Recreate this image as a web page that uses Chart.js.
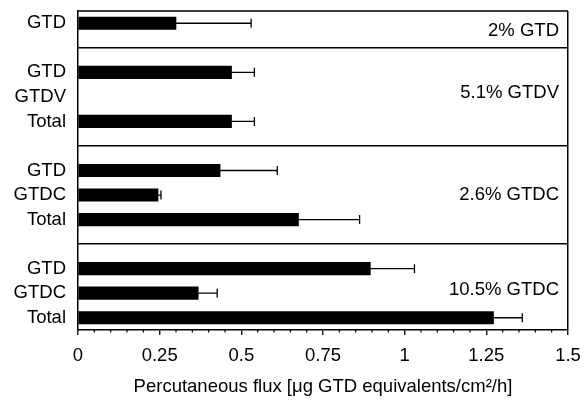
<!DOCTYPE html>
<html>
<head>
<meta charset="utf-8">
<script src="https://cdn.jsdelivr.net/npm/chart.js@4"></script>
<style>
  html, body { margin: 0; padding: 0; background: #fff; }
  #wrap { width: 585px; height: 403px; }
</style>
</head>
<body>
<div id="wrap"><canvas id="fluxChart"></canvas></div>
<script>
// rows from top to bottom, blank rows separate the four panels
const rowLabels = ["GTD", "", "GTD", "GTDV", "Total", "", "GTD", "GTDC", "Total", "", "GTD", "GTDC", "Total"];
const fluxMean = [0.30, null, 0.47, null, 0.47, null, 0.435, 0.245, 0.675, null, 0.895, 0.368, 1.272];
const fluxUpper = [0.53, null, 0.54, null, 0.54, null, 0.61, 0.254, 0.862, null, 1.03, 0.426, 1.36];
const panelNames = ["2% GTD", "5.1% GTDV", "2.6% GTDC", "10.5% GTDC"];
const xTickLabels = ["0", "0.25", "0.5", "0.75", "1", "1.25", "1.5"];

const panelRows = [0.3, 2.85, 7, 10.85];
const FONT = { family: "'Liberation Sans', Arial, Helvetica, sans-serif", size: 18.5 };

Chart.defaults.font.family = FONT.family;
Chart.defaults.color = "#000";

// top frame, error bars, minor ticks and panel names
const extras = {
  id: "extras",
  afterDatasetsDraw(chart) {
    const ctx = chart.ctx;
    const area = chart.chartArea;
    const xs = chart.scales.x, ys = chart.scales.y;
    ctx.save();
    ctx.strokeStyle = "#000";
    ctx.lineWidth = 1.5;
    ctx.beginPath();
    ctx.moveTo(area.left, area.top);
    ctx.lineTo(area.right, area.top);
    ctx.stroke();

    ctx.lineWidth = 1.3;
    chart.getDatasetMeta(0).data.forEach((bar, i) => {
      if (fluxUpper[i] == null || fluxMean[i] == null) return;
      const x1 = xs.getPixelForValue(fluxUpper[i]);
      ctx.beginPath();
      ctx.moveTo(bar.x, bar.y);
      ctx.lineTo(x1, bar.y);
      ctx.moveTo(x1, bar.y - 4.5);
      ctx.lineTo(x1, bar.y + 4.5);
      ctx.stroke();
    });

    ctx.lineWidth = 1.2;
    for (let k = 1; k < 30; k++) {
      if (k % 5 === 0) continue;
      const px = xs.getPixelForValue(k * 0.05);
      ctx.beginPath();
      ctx.moveTo(px, area.bottom);
      ctx.lineTo(px, area.bottom + 2.5);
      ctx.stroke();
    }

    ctx.fillStyle = "#000";
    ctx.font = FONT.size + "px " + FONT.family;
    ctx.textAlign = "right";
    ctx.textBaseline = "middle";
    panelNames.forEach((name, i) => {
      ctx.fillText(name, area.right - 9, ys.getPixelForValue(panelRows[i]));
    });
    ctx.restore();
  }
};

new Chart(document.getElementById("fluxChart"), {
  type: "bar",
  data: {
    labels: rowLabels,
    datasets: [{
      data: fluxMean,
      backgroundColor: "#000",
      borderWidth: 0,
      barThickness: 12.5
    }]
  },
  options: {
    indexAxis: "y",
    responsive: true,
    maintainAspectRatio: false,
    animation: false,
    layout: { padding: { top: 0, right: 17, left: 0, bottom: 0 } },
    plugins: {
      legend: { display: false },
      tooltip: { enabled: false }
    },
    scales: {
      y: {
        type: "category",
        afterFit(scale) { scale.width = 78; scale.paddingTop = 11; },
        grid: {
          offset: false,
          drawTicks: false,
          lineWidth: 1.5,
          color: c => (c.tick && c.tick.label === "" ? "#000" : "rgba(0,0,0,0)")
        },
        border: { color: "#000", width: 1.5 },
        ticks: { autoSkip: false, padding: 12, color: "#000", font: FONT }
      },
      x: {
        min: 0,
        max: 1.5,
        afterFit(scale) { scale.height = 73; scale.paddingRight = 0; scale.paddingLeft = 0; },
        ticks: {
          stepSize: 0.25,
          padding: 10,
          color: "#000",
          font: FONT,
          callback: (v, i) => xTickLabels[i]
        },
        grid: {
          lineWidth: 1.5,
          tickLength: 5,
          tickColor: "#000",
          tickWidth: 1.3,
          color: c => (c.tick && c.tick.value === 1.5 ? "#000" : "rgba(0,0,0,0)")
        },
        border: { color: "#000", width: 1.5 },
        title: {
          display: true,
          text: "Percutaneous flux [μg GTD equivalents/cm²/h]",
          color: "#000",
          font: FONT,
          padding: { top: 0, bottom: 5 }
        }
      }
    }
  },
  plugins: [extras]
});
</script>
</body>
</html>
